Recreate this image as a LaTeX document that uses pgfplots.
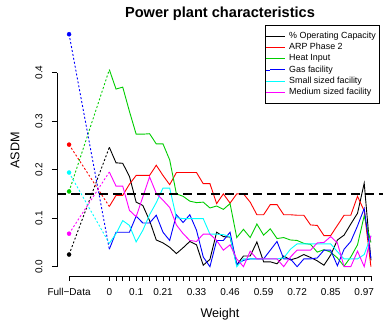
\documentclass[border=0pt]{standalone}
\usepackage{pgfplots}
\pgfplotsset{compat=1.18}
\usepackage{pgfplotstable}
\usepackage{fontspec}
\setmainfont{Liberation Sans}
\definecolor{rgreen}{HTML}{00CD00}
\definecolor{rcyan}{HTML}{00FFFF}
\definecolor{rmag}{HTML}{FF00FF}
\definecolor{rred}{HTML}{FF0000}
\definecolor{rblue}{HTML}{0000FF}
\pgfplotstableread{
x k r g b c m
0 0.246 0.124 0.406 0.036 0.048 0.195
1 0.214 0.147 0.366 0.071 0.068 0.166
2 0.213 0.147 0.370 0.071 0.095 0.166
3 0.186 0.170 0.320 0.071 0.085 0.116
4 0.133 0.188 0.273 0.104 0.051 0.103
5 0.126 0.188 0.273 0.090 0.075 0.144
6 0.095 0.188 0.274 0.090 0.107 0.185
7 0.055 0.209 0.253 0.106 0.132 0.151
8 0.049 0.188 0.253 0.071 0.162 0.137
9 0.040 0.169 0.220 0.054 0.162 0.122
10 0.027 0.194 0.150 0.107 0.101 0.086
11 0.039 0.194 0.145 0.091 0.099 0.068
12 0.052 0.194 0.135 0.107 0.099 0.054
13 0.045 0.194 0.132 0.075 0.099 0.052
14 0.003 0.171 0.133 0.020 0.099 0.067
15 0.015 0.171 0.121 0.000 0.067 0.067
16 0.071 0.130 0.125 0.054 0.067 0.054
17 0.062 0.150 0.118 0.054 0.066 0.034
18 0.061 0.131 0.130 0.071 0.062 0.045
19 0.004 0.150 0.060 0.005 0.000 0.016
20 0.022 0.150 0.077 0.013 0.016 0.000
21 0.022 0.133 0.060 0.016 0.016 0.032
22 0.051 0.107 0.088 0.016 0.016 0.016
23 0.010 0.107 0.065 0.016 0.016 0.016
24 0.010 0.128 0.078 0.034 0.016 0.016
25 0.006 0.128 0.058 0.052 0.016 0.016
26 0.022 0.107 0.060 0.016 0.018 0.000
27 0.014 0.107 0.055 0.016 0.036 0.020
28 0.018 0.106 0.054 0.000 0.047 0.034
29 0.025 0.106 0.048 0.016 0.047 0.034
30 0.019 0.086 0.046 0.016 0.047 0.034
31 0.012 0.085 0.030 0.018 0.047 0.049
32 0.003 0.064 0.035 0.034 0.047 0.050
33 0.024 0.064 0.030 0.034 0.047 0.062
34 0.055 0.085 0.018 0.002 0.031 0.049
35 0.065 0.106 0.001 0.036 0.016 0.000
36 0.088 0.106 0.020 0.052 0.016 0.000
37 0.110 0.145 0.045 0.084 0.016 0.032
38 0.172 0.115 0.105 0.120 0.025 0.000
39 0.013 0.000 0.050 0.017 0.063 0.064
}\data
\begin{document}
\begin{tikzpicture}[x=1pt,y=1pt]
\path[use as bounding box] (-57,-45) rectangle (327,276);
\begin{axis}[
  at={(0,0)}, anchor=south west, scale only axis,
  width=326pt, height=251pt,
  xmin=-7.8, xmax=40.8, ymin=-0.0192, ymax=0.498,
  axis line style={draw=none},
  xtick pos=bottom, ytick pos=left,
  clip=false,
  xtick align=outside, ytick align=outside, major tick length=5pt,
  tick style={black, line width=0.8pt},
  xtick={-6,0,1,...,39},
  xticklabels={Full−Data,0,,,,0.1,,,,0.21,,,,,0.33,,,,,0.46,,,,,0.59,,,,,0.72,,,,,0.85,,,,,0.97,},
  ytick={0,0.1,0.2,0.3,0.4},
  yticklabels={0.0,0.1,0.2,0.3,0.4},
  /pgf/number format/assume math mode=true,
  xticklabel style={font=\fontsize{10}{12}\selectfont, anchor=base, inner sep=0pt, yshift=-14.1pt},
  yticklabel style={font=\fontsize{10}{12}\selectfont, xshift=-9.6pt, rotate=90, anchor=base, inner sep=0pt},
  xlabel={Weight},
  ylabel={ASDM},
  xlabel style={at={(axis description cs:0.5,-0.151)}, anchor=center, font=\fontsize{12.6}{14}\selectfont},
  ylabel style={at={(axis description cs:-0.1288,0.5)}, anchor=center, rotate=0, font=\fontsize{12.6}{14}\selectfont},
  title={Power plant characteristics},
  title style={at={(axis description cs:0.5,1.0199)}, anchor=center, font=\bfseries\fontsize{14.6}{16}\selectfont},
  legend style={at={(axis description cs:0.638,1)}, anchor=north west, draw=black, line width=0.8pt,
    font=\fontsize{8.9}{10}\selectfont, inner xsep=0pt, inner ysep=6.5pt, row sep=3pt, column sep=0pt,
    nodes={inner xsep=4pt, inner ysep=0pt, text height=6.5pt, text depth=1.8pt}},
  legend cell align=left,
  legend image code/.code={\path (-4pt,0pt) -- (0pt,0pt); \draw[#1, line width=0.9pt] (0pt,0pt) -- (15pt,0pt);},
]
\addlegendimage{black}
\addlegendentry{\% Operating Capacity}
\addlegendimage{rred}
\addlegendentry{ARP Phase 2}
\addlegendimage{rgreen}
\addlegendentry{Heat Input}
\addlegendimage{rblue}
\addlegendentry{Gas facility}
\addlegendimage{rcyan}
\addlegendentry{Small sized facility}
\addlegendimage{rmag}
\addlegendentry{Medium sized facility}

\addplot[forget plot, black, line width=0.9pt] table[x=x, y=k] {\data};
\addplot[forget plot, black, line width=0.9pt, dash pattern=on 2pt off 2pt] coordinates {(-6,0.025) (0,0.246)};
\addplot[forget plot, black, only marks, mark=*, mark size=2pt] coordinates {(-6,0.025)};

\addplot[forget plot, rred, line width=0.9pt] table[x=x, y=r] {\data};
\addplot[forget plot, rred, line width=0.9pt, dash pattern=on 2pt off 2pt] coordinates {(-6,0.2515) (0,0.124)};
\addplot[forget plot, rred, only marks, mark=*, mark size=2pt] coordinates {(-6,0.2515)};

\addplot[forget plot, rgreen, line width=0.9pt] table[x=x, y=g] {\data};
\addplot[forget plot, rgreen, line width=0.9pt, dash pattern=on 2pt off 2pt] coordinates {(-6,0.155) (0,0.406)};
\addplot[forget plot, rgreen, only marks, mark=*, mark size=2pt] coordinates {(-6,0.155)};

\addplot[forget plot, rblue, line width=0.9pt] table[x=x, y=b] {\data};
\addplot[forget plot, rblue, line width=0.9pt, dash pattern=on 2pt off 2pt] coordinates {(-6,0.479) (0,0.036)};
\addplot[forget plot, rblue, only marks, mark=*, mark size=2pt] coordinates {(-6,0.479)};

\addplot[forget plot, rcyan, line width=0.9pt] table[x=x, y=c] {\data};
\addplot[forget plot, rcyan, line width=0.9pt, dash pattern=on 2pt off 2pt] coordinates {(-6,0.194) (0,0.048)};
\addplot[forget plot, rcyan, only marks, mark=*, mark size=2pt] coordinates {(-6,0.194)};

\addplot[forget plot, rmag, line width=0.9pt] table[x=x, y=m] {\data};
\addplot[forget plot, rmag, line width=0.9pt, dash pattern=on 2pt off 2pt] coordinates {(-6,0.068) (0,0.195)};
\addplot[forget plot, rmag, only marks, mark=*, mark size=2pt] coordinates {(-6,0.068)};

\addplot[forget plot, black, line width=2pt, dash pattern=on 9pt off 5pt] coordinates {(-7.8,0.15) (40.8,0.15)};

\draw[line width=0.8pt] (axis cs:-7.8,0) -- (axis cs:-7.8,0.4);
\draw[line width=0.8pt] (axis cs:-6,-0.0192) -- (axis cs:39,-0.0192);
\end{axis}
\end{tikzpicture}
\end{document}
